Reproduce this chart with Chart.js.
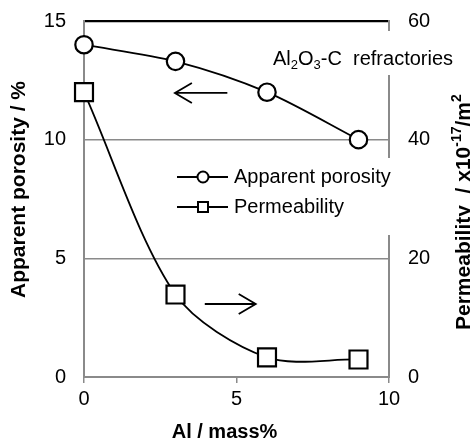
<!DOCTYPE html>
<html>
<head>
<meta charset="utf-8">
<script src="https://cdn.jsdelivr.net/npm/chart.js@4.4.1/dist/chart.umd.min.js"></script>
<style>
  html, body { margin: 0; padding: 0; background: #ffffff; }
  #chart { display: block; }
</style>
</head>
<body>
<canvas id="chart" width="470" height="444"></canvas>
<script>
// Data
const alContent = [0, 3, 6, 9];                 // Al / mass%
const porosity = [14.0, 13.3, 12.0, 10.0];      // Apparent porosity / %
const permeability = [48.0, 13.9, 3.3, 2.95];   // Permeability / x10^-17 m^2

const xTicks = [0, 5, 10];
const porosityTicks = [0, 5, 10, 15];
const permTicks = [0, 20, 40, 60];

const FONT = '"Liberation Sans", Arial, sans-serif';
const GRAY = '#8a8a8a';

// Draws a run of text pieces (normal / sub / sup) from x along the baseline
function drawRich(ctx, parts, x, y, weight, size) {
    let cx = x;
    parts.forEach(p => {
        const s = p.small ? Math.round(size * 0.65) : size;
        ctx.font = weight + ' ' + s + 'px ' + FONT;
        ctx.fillText(p.t, cx, y + (p.dy || 0));
        cx += ctx.measureText(p.t).width;
    });
    return cx;
}

function drawArrow(ctx, x0, y0, x1, y1) {
    const ang = Math.atan2(y1 - y0, x1 - x0);
    const hl = 17, hw = 10;
    ctx.beginPath();
    ctx.moveTo(x0, y0);
    ctx.lineTo(x1, y1);
    ctx.moveTo(x1 - hl * Math.cos(ang) + hw * Math.sin(ang), y1 - hl * Math.sin(ang) - hw * Math.cos(ang));
    ctx.lineTo(x1, y1);
    ctx.lineTo(x1 - hl * Math.cos(ang) - hw * Math.sin(ang), y1 - hl * Math.sin(ang) + hw * Math.cos(ang));
    ctx.stroke();
}

// Titles, arrows, legend and label box
const decor = {
    id: 'decor',
    afterDraw(chart) {
        const ctx = chart.ctx;
        const sx = chart.scales.x, sy = chart.scales.y, sy2 = chart.scales.y2;
        ctx.save();
        ctx.fillStyle = '#000';
        ctx.strokeStyle = '#000';
        ctx.textBaseline = 'alphabetic';
        ctx.textAlign = 'left';

        // white backgrounds of the text boxes (they hide the right axis)
        ctx.fillStyle = '#ffffff';
        ctx.fillRect(270, 31, 134, 44);
        ctx.fillRect(170, 158, 232, 77);
        ctx.fillStyle = '#000';

        // Al2O3-C refractories
        drawRich(ctx, [
            { t: 'Al' }, { t: '2', small: true, dy: 4 },
            { t: 'O' }, { t: '3', small: true, dy: 4 },
            { t: '-C  refractories' }
        ], 273, 65, 'normal', 20);

        // arrows (in data units)
        ctx.lineWidth = 1.8;
        drawArrow(ctx, sx.getPixelForValue(4.7), sy.getPixelForValue(11.97),
                       sx.getPixelForValue(2.98), sy.getPixelForValue(11.97));
        drawArrow(ctx, sx.getPixelForValue(3.96), sy2.getPixelForValue(12.3),
                       sx.getPixelForValue(5.63), sy2.getPixelForValue(12.3));

        // legend
        const legendRows = [
            { label: 'Apparent porosity', style: 'circle', y: 177 },
            { label: 'Permeability', style: 'rect', y: 207 }
        ];
        legendRows.forEach(r => {
            ctx.lineWidth = 2;
            ctx.beginPath();
            ctx.moveTo(177, r.y);
            ctx.lineTo(228, r.y);
            ctx.stroke();
            ctx.fillStyle = '#fff';
            ctx.beginPath();
            if (r.style === 'circle') ctx.arc(203, r.y, 5.5, 0, Math.PI * 2);
            else ctx.rect(198, r.y - 5, 10, 10);
            ctx.fill();
            ctx.stroke();
            ctx.fillStyle = '#000';
            ctx.font = 'normal 20px ' + FONT;
            ctx.textBaseline = 'middle';
            ctx.fillText(r.label, 234, r.y);
        });
        ctx.textBaseline = 'alphabetic';

        // x axis title
        ctx.font = 'bold 20px ' + FONT;
        ctx.textAlign = 'center';
        ctx.fillText('Al / mass%', 224.5, 438);
        ctx.textAlign = 'left';

        // left axis title
        ctx.save();
        ctx.translate(18, 298);
        ctx.rotate(-Math.PI / 2);
        ctx.font = 'bold 21px ' + FONT;
        ctx.fillText('Apparent porosity / %', 0, 7);
        ctx.restore();

        // right axis title
        ctx.save();
        ctx.translate(463, 330);
        ctx.rotate(-Math.PI / 2);
        drawRich(ctx, [
            { t: 'Permeability  / x10' },
            { t: '-17', small: true, dy: -9 },
            { t: '/m' },
            { t: '2', small: true, dy: -9 }
        ], 0, 7, 'bold', 21);
        ctx.restore();

        ctx.restore();
    }
};

new Chart(document.getElementById('chart'), {
    type: 'line',
    data: {
        datasets: [{
            label: 'Apparent porosity',
            data: alContent.map((v, i) => ({ x: v, y: porosity[i] })),
            yAxisID: 'y',
            borderColor: '#000',
            borderWidth: 1.8,
            tension: 0.3,
            pointStyle: 'circle',
            pointRadius: 8.7,
            pointBorderWidth: 2.2,
            pointBackgroundColor: '#fff',
            pointBorderColor: '#000',
            clip: false
        }, {
            label: 'Permeability',
            data: alContent.map((v, i) => ({ x: v, y: permeability[i] })),
            yAxisID: 'y2',
            borderColor: '#000',
            borderWidth: 1.8,
            tension: 0.3,
            pointStyle: 'rect',
            pointRadius: 12.7,
            pointBorderWidth: 2.2,
            pointBackgroundColor: '#fff',
            pointBorderColor: '#000',
            clip: false
        }]
    },
    options: {
        responsive: false,
        animation: false,
        layout: { padding: { top: 21, left: 0, right: 0, bottom: 0 } },
        plugins: { legend: { display: false }, tooltip: { enabled: false } },
        scales: {
            x: {
                type: 'linear',
                min: 0, max: 10,
                afterBuildTicks: s => { s.ticks = xTicks.map(v => ({ value: v })); },
                afterFit: s => { s.height = 67; },
                ticks: { color: '#000', font: { family: FONT, size: 20 }, padding: 4 },
                grid: { drawOnChartArea: false, drawTicks: true, tickLength: 6, color: GRAY, lineWidth: 1.5 },
                border: { color: GRAY, width: 2 }
            },
            y: {
                position: 'left',
                min: 0, max: 15,
                afterBuildTicks: s => { s.ticks = porosityTicks.map(v => ({ value: v })); },
                afterFit: s => { s.width = 84; },
                ticks: { color: '#000', font: { family: FONT, size: 20 }, padding: 0 },
                grid: {
                    drawTicks: true,
                    tickLength: 18,
                    tickColor: 'rgba(0,0,0,0)',
                    color: c => (c.tick && c.tick.value === 15) ? '#000' : GRAY,
                    lineWidth: c => (c.tick && c.tick.value === 15) ? 2.2 : 1.5
                },
                border: { color: GRAY, width: 2 }
            },
            y2: {
                position: 'right',
                min: 0, max: 60,
                afterBuildTicks: s => { s.ticks = permTicks.map(v => ({ value: v })); },
                afterFit: s => { s.width = 81; },
                ticks: { color: '#000', font: { family: FONT, size: 20 }, padding: 0 },
                grid: { drawOnChartArea: false, drawTicks: true, tickLength: 19, tickColor: 'rgba(0,0,0,0)', color: 'rgba(0,0,0,0)' },
                border: { color: GRAY, width: 2 }
            }
        }
    },
    plugins: [decor]
});
</script>
</body>
</html>
